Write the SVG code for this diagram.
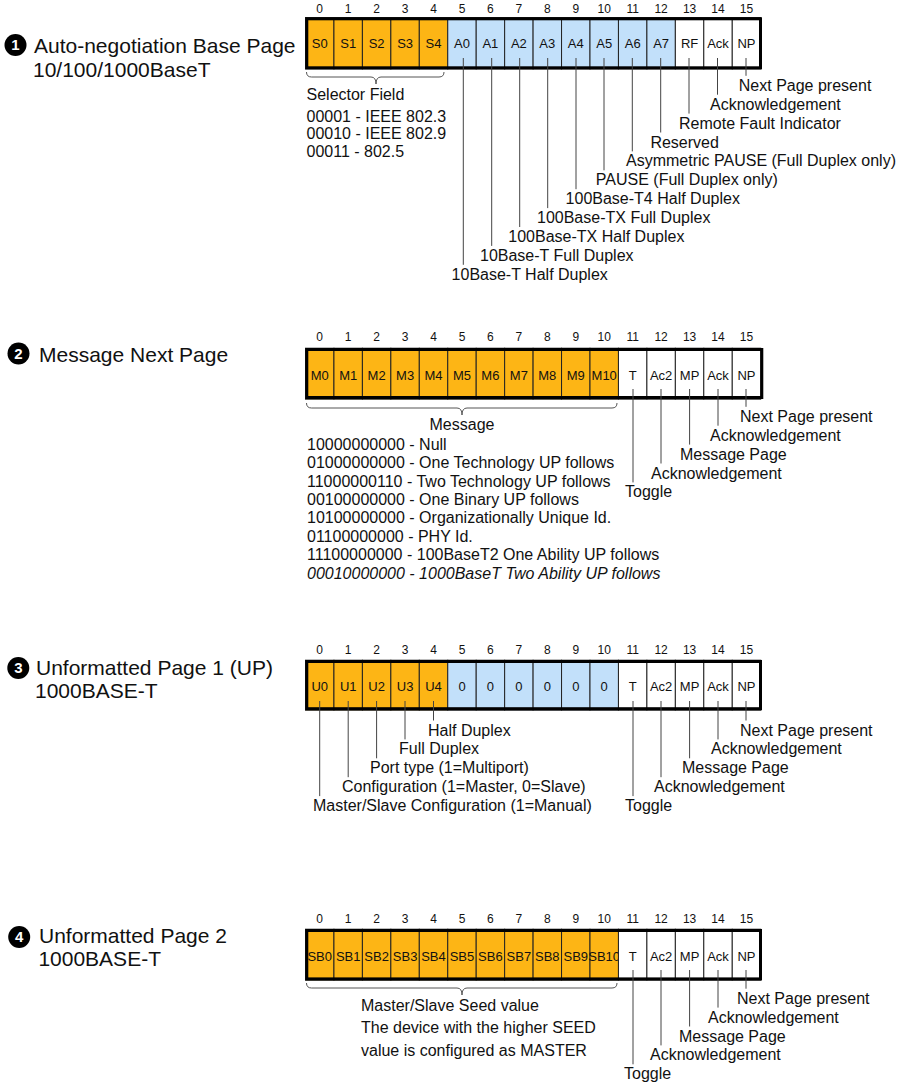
<svg xmlns="http://www.w3.org/2000/svg" width="902" height="1083" viewBox="0 0 902 1083">
<style>
  text { font-family: "Liberation Sans", Arial, sans-serif; fill: #111; }
  .o { fill: #FDB515; stroke: #222; stroke-width: 1; }
  .b { fill: #C2E0FA; stroke: #222; stroke-width: 1; }
  .w { fill: #FFFFFF; stroke: #222; stroke-width: 1; }
  .frame { fill: none; stroke: #000; stroke-width: 3; }
  .idx { font-size: 12px; text-anchor: middle; }
  .cl { font-size: 13px; text-anchor: middle; }
  .lbl { font-size: 16px; }
  .mid { text-anchor: middle; }
  .ttl { font-size: 21px; }
  .num { font-size: 15px; font-weight: bold; fill: #fff; text-anchor: middle; }
  .conn { stroke: #444; stroke-width: 1; fill: none; }
  .brace { stroke: #555; stroke-width: 1; fill: none; }
</style>

<!-- ===== Page 1: Auto-negotiation base page ===== -->
<g id="title-1">
  <circle cx="15.5" cy="45" r="11" fill="#000"/>
  <text class="num" x="15.5" y="50.3">1</text>
  <text class="ttl" x="34" y="53.3">Auto-negotiation Base Page</text>
  <text class="ttl" x="33" y="76.7">10/100/1000BaseT</text>
</g>
<g id="index-1">
  <text class="idx" x="319.7" y="12.6">0</text><text class="idx" x="348.2" y="12.6">1</text><text class="idx" x="376.6" y="12.6">2</text><text class="idx" x="405.1" y="12.6">3</text>
  <text class="idx" x="433.5" y="12.6">4</text><text class="idx" x="462" y="12.6">5</text><text class="idx" x="490.4" y="12.6">6</text><text class="idx" x="518.9" y="12.6">7</text>
  <text class="idx" x="547.3" y="12.6">8</text><text class="idx" x="575.8" y="12.6">9</text><text class="idx" x="604.2" y="12.6">10</text><text class="idx" x="632.7" y="12.6">11</text>
  <text class="idx" x="661.1" y="12.6">12</text><text class="idx" x="689.6" y="12.6">13</text><text class="idx" x="718" y="12.6">14</text><text class="idx" x="746.5" y="12.6">15</text>
</g>
<g id="reg-1">
  <g id="p1-s0"><rect class="o" x="305.5" y="17.5" width="28.45" height="51.5"/><text class="cl" x="319.7" y="48">S0</text></g>
  <g id="p1-s1"><rect class="o" x="333.95" y="17.5" width="28.45" height="51.5"/><text class="cl" x="348.2" y="48">S1</text></g>
  <g id="p1-s2"><rect class="o" x="362.4" y="17.5" width="28.45" height="51.5"/><text class="cl" x="376.6" y="48">S2</text></g>
  <g id="p1-s3"><rect class="o" x="390.85" y="17.5" width="28.45" height="51.5"/><text class="cl" x="405.1" y="48">S3</text></g>
  <g id="p1-s4"><rect class="o" x="419.3" y="17.5" width="28.45" height="51.5"/><text class="cl" x="433.5" y="48">S4</text></g>
  <g id="p1-a0"><rect class="b" x="447.75" y="17.5" width="28.45" height="51.5"/><text class="cl" x="462" y="48">A0</text></g>
  <g id="p1-a1"><rect class="b" x="476.2" y="17.5" width="28.45" height="51.5"/><text class="cl" x="490.4" y="48">A1</text></g>
  <g id="p1-a2"><rect class="b" x="504.65" y="17.5" width="28.45" height="51.5"/><text class="cl" x="518.9" y="48">A2</text></g>
  <g id="p1-a3"><rect class="b" x="533.1" y="17.5" width="28.45" height="51.5"/><text class="cl" x="547.3" y="48">A3</text></g>
  <g id="p1-a4"><rect class="b" x="561.55" y="17.5" width="28.45" height="51.5"/><text class="cl" x="575.8" y="48">A4</text></g>
  <g id="p1-a5"><rect class="b" x="590" y="17.5" width="28.45" height="51.5"/><text class="cl" x="604.2" y="48">A5</text></g>
  <g id="p1-a6"><rect class="b" x="618.45" y="17.5" width="28.45" height="51.5"/><text class="cl" x="632.7" y="48">A6</text></g>
  <g id="p1-a7"><rect class="b" x="646.9" y="17.5" width="28.45" height="51.5"/><text class="cl" x="661.1" y="48">A7</text></g>
  <g id="p1-rf"><rect class="w" x="675.35" y="17.5" width="28.45" height="51.5"/><text class="cl" x="689.6" y="48">RF</text></g>
  <g id="p1-ack"><rect class="w" x="703.8" y="17.5" width="28.45" height="51.5"/><text class="cl" x="718" y="48">Ack</text></g>
  <g id="p1-np"><rect class="w" x="732.25" y="17.5" width="28.45" height="51.5"/><text class="cl" x="746.5" y="48">NP</text></g>
  <rect class="frame" x="306.8" y="18.8" width="453.7" height="49"/>
</g>
<g id="selector-field">
  <path class="brace" d="M306.5,72 Q306.5,77 311.5,77 H371 Q376,77 376,84 Q376,77 381,77 H439 Q444,77 444,72"/>
  <text class="lbl" x="306.5" y="99.5">Selector Field</text>
  <text class="lbl" x="306.5" y="121.5">00001 - IEEE 802.3</text>
  <text class="lbl" x="306.5" y="139">00010 - IEEE 802.9</text>
  <text class="lbl" x="306.5" y="156.5">00011 - 802.5</text>
</g>
<g id="labels-1">
  <text class="lbl" x="738.8" y="90.8">Next Page present</text>
  <text class="lbl" x="710" y="109.7">Acknowledgement</text>
  <text class="lbl" x="679" y="128.6">Remote Fault Indicator</text>
  <text class="lbl" x="650.4" y="147.5">Reserved</text>
  <text class="lbl" x="626" y="166.4">Asymmetric PAUSE (Full Duplex only)</text>
  <text class="lbl" x="595.8" y="185.3">PAUSE (Full Duplex only)</text>
  <text class="lbl" x="565.6" y="204.2">100Base-T4 Half Duplex</text>
  <text class="lbl" x="537" y="223.1">100Base-TX Full Duplex</text>
  <text class="lbl" x="508.3" y="242">100Base-TX Half Duplex</text>
  <text class="lbl" x="480" y="260.9">10Base-T Full Duplex</text>
  <text class="lbl" x="451.6" y="279.8">10Base-T Half Duplex</text>
</g>

<!-- ===== Page 2: Message next page ===== -->
<g id="title-2">
  <circle cx="18.5" cy="353.5" r="11" fill="#000"/>
  <text class="num" x="18.5" y="358.8">2</text>
  <text class="ttl" x="39" y="361.7">Message Next Page</text>
</g>
<g id="index-2">
  <text class="idx" x="319.7" y="340.5">0</text><text class="idx" x="348.2" y="340.5">1</text><text class="idx" x="376.6" y="340.5">2</text><text class="idx" x="405.1" y="340.5">3</text>
  <text class="idx" x="433.5" y="340.5">4</text><text class="idx" x="462" y="340.5">5</text><text class="idx" x="490.4" y="340.5">6</text><text class="idx" x="518.9" y="340.5">7</text>
  <text class="idx" x="547.3" y="340.5">8</text><text class="idx" x="575.8" y="340.5">9</text><text class="idx" x="604.2" y="340.5">10</text><text class="idx" x="632.7" y="340.5">11</text>
  <text class="idx" x="661.1" y="340.5">12</text><text class="idx" x="689.6" y="340.5">13</text><text class="idx" x="718" y="340.5">14</text><text class="idx" x="746.5" y="340.5">15</text>
</g>
<g id="reg-2">
  <g id="p2-m0"><rect class="o" x="305.5" y="348.2" width="28.45" height="51"/><text class="cl" x="319.7" y="379.5">M0</text></g>
  <g id="p2-m1"><rect class="o" x="333.95" y="348.2" width="28.45" height="51"/><text class="cl" x="348.2" y="379.5">M1</text></g>
  <g id="p2-m2"><rect class="o" x="362.4" y="348.2" width="28.45" height="51"/><text class="cl" x="376.6" y="379.5">M2</text></g>
  <g id="p2-m3"><rect class="o" x="390.85" y="348.2" width="28.45" height="51"/><text class="cl" x="405.1" y="379.5">M3</text></g>
  <g id="p2-m4"><rect class="o" x="419.3" y="348.2" width="28.45" height="51"/><text class="cl" x="433.5" y="379.5">M4</text></g>
  <g id="p2-m5"><rect class="o" x="447.75" y="348.2" width="28.45" height="51"/><text class="cl" x="462" y="379.5">M5</text></g>
  <g id="p2-m6"><rect class="o" x="476.2" y="348.2" width="28.45" height="51"/><text class="cl" x="490.4" y="379.5">M6</text></g>
  <g id="p2-m7"><rect class="o" x="504.65" y="348.2" width="28.45" height="51"/><text class="cl" x="518.9" y="379.5">M7</text></g>
  <g id="p2-m8"><rect class="o" x="533.1" y="348.2" width="28.45" height="51"/><text class="cl" x="547.3" y="379.5">M8</text></g>
  <g id="p2-m9"><rect class="o" x="561.55" y="348.2" width="28.45" height="51"/><text class="cl" x="575.8" y="379.5">M9</text></g>
  <g id="p2-m10"><rect class="o" x="590" y="348.2" width="28.45" height="51"/><text class="cl" x="604.2" y="379.5">M10</text></g>
  <g id="p2-t"><rect class="w" x="618.45" y="348.2" width="28.45" height="51"/><text class="cl" x="632.7" y="379.5">T</text></g>
  <g id="p2-ac2"><rect class="w" x="646.9" y="348.2" width="28.45" height="51"/><text class="cl" x="661.1" y="379.5">Ac2</text></g>
  <g id="p2-mp"><rect class="w" x="675.35" y="348.2" width="28.45" height="51"/><text class="cl" x="689.6" y="379.5">MP</text></g>
  <g id="p2-ack"><rect class="w" x="703.8" y="348.2" width="28.45" height="51"/><text class="cl" x="718" y="379.5">Ack</text></g>
  <g id="p2-np"><rect class="w" x="732.25" y="348.2" width="28.45" height="51"/><text class="cl" x="746.5" y="379.5">NP</text></g>
  <rect class="frame" x="306.8" y="349.5" width="455" height="48"/>
</g>
<g id="message-field">
  <path class="brace" d="M306.5,403 Q306.5,408 311.5,408 H457 Q462,408 462,415 Q462,408 467,408 H612 Q617,408 617,403"/>
  <text class="lbl mid" x="462" y="430">Message</text>
  <text class="lbl" x="307" y="449.7">10000000000 - Null</text>
  <text class="lbl" x="307" y="468.1">01000000000 - One Technology UP follows</text>
  <text class="lbl" x="307" y="486.5">11000000110 - Two Technology UP follows</text>
  <text class="lbl" x="307" y="504.9">00100000000 - One Binary UP follows</text>
  <text class="lbl" x="307" y="523.3">10100000000 - Organizationally Unique Id.</text>
  <text class="lbl" x="307" y="541.7">01100000000 - PHY Id.</text>
  <text class="lbl" x="307" y="560.1">11100000000 - 100BaseT2 One Ability UP follows</text>
  <text class="lbl" x="307" y="578.5" font-style="italic">00010000000 - 1000BaseT Two Ability UP follows</text>
</g>
<g id="labels-2">
  <text class="lbl" x="740" y="421.8">Next Page present</text>
  <text class="lbl" x="710" y="440.7">Acknowledgement</text>
  <text class="lbl" x="680" y="459.6">Message Page</text>
  <text class="lbl" x="651" y="478.5">Acknowledgement</text>
  <text class="lbl" x="625" y="497.4">Toggle</text>
</g>

<!-- ===== Page 3: Unformatted page 1 ===== -->
<g id="title-3">
  <circle cx="18.3" cy="668" r="11" fill="#000"/>
  <text class="num" x="18.3" y="673.3">3</text>
  <text class="ttl" x="36" y="675">Unformatted Page 1 (UP)</text>
  <text class="ttl" x="35" y="697.5">1000BASE-T</text>
</g>
<g id="index-3">
  <text class="idx" x="319.7" y="654.3">0</text><text class="idx" x="348.2" y="654.3">1</text><text class="idx" x="376.6" y="654.3">2</text><text class="idx" x="405.1" y="654.3">3</text>
  <text class="idx" x="433.5" y="654.3">4</text><text class="idx" x="462" y="654.3">5</text><text class="idx" x="490.4" y="654.3">6</text><text class="idx" x="518.9" y="654.3">7</text>
  <text class="idx" x="547.3" y="654.3">8</text><text class="idx" x="575.8" y="654.3">9</text><text class="idx" x="604.2" y="654.3">10</text><text class="idx" x="632.7" y="654.3">11</text>
  <text class="idx" x="661.1" y="654.3">12</text><text class="idx" x="689.6" y="654.3">13</text><text class="idx" x="718" y="654.3">14</text><text class="idx" x="746.5" y="654.3">15</text>
</g>
<g id="reg-3">
  <g id="p3-u0"><rect class="o" x="305.5" y="660.2" width="28.45" height="50"/><text class="cl" x="319.7" y="690.7">U0</text></g>
  <g id="p3-u1"><rect class="o" x="333.95" y="660.2" width="28.45" height="50"/><text class="cl" x="348.2" y="690.7">U1</text></g>
  <g id="p3-u2"><rect class="o" x="362.4" y="660.2" width="28.45" height="50"/><text class="cl" x="376.6" y="690.7">U2</text></g>
  <g id="p3-u3"><rect class="o" x="390.85" y="660.2" width="28.45" height="50"/><text class="cl" x="405.1" y="690.7">U3</text></g>
  <g id="p3-u4"><rect class="o" x="419.3" y="660.2" width="28.45" height="50"/><text class="cl" x="433.5" y="690.7">U4</text></g>
  <g id="p3-z5"><rect class="b" x="447.75" y="660.2" width="28.45" height="50"/><text class="cl" x="462" y="690.7">0</text></g>
  <g id="p3-z6"><rect class="b" x="476.2" y="660.2" width="28.45" height="50"/><text class="cl" x="490.4" y="690.7">0</text></g>
  <g id="p3-z7"><rect class="b" x="504.65" y="660.2" width="28.45" height="50"/><text class="cl" x="518.9" y="690.7">0</text></g>
  <g id="p3-z8"><rect class="b" x="533.1" y="660.2" width="28.45" height="50"/><text class="cl" x="547.3" y="690.7">0</text></g>
  <g id="p3-z9"><rect class="b" x="561.55" y="660.2" width="28.45" height="50"/><text class="cl" x="575.8" y="690.7">0</text></g>
  <g id="p3-z10"><rect class="b" x="590" y="660.2" width="28.45" height="50"/><text class="cl" x="604.2" y="690.7">0</text></g>
  <g id="p3-t"><rect class="w" x="618.45" y="660.2" width="28.45" height="50"/><text class="cl" x="632.7" y="690.7">T</text></g>
  <g id="p3-ac2"><rect class="w" x="646.9" y="660.2" width="28.45" height="50"/><text class="cl" x="661.1" y="690.7">Ac2</text></g>
  <g id="p3-mp"><rect class="w" x="675.35" y="660.2" width="28.45" height="50"/><text class="cl" x="689.6" y="690.7">MP</text></g>
  <g id="p3-ack"><rect class="w" x="703.8" y="660.2" width="28.45" height="50"/><text class="cl" x="718" y="690.7">Ack</text></g>
  <g id="p3-np"><rect class="w" x="732.25" y="660.2" width="28.45" height="50"/><text class="cl" x="746.5" y="690.7">NP</text></g>
  <rect class="frame" x="306.8" y="661.5" width="453.7" height="47.2"/>
</g>
<g id="labels-3">
  <text class="lbl" x="428" y="735.5">Half Duplex</text>
  <text class="lbl" x="399" y="754.4">Full Duplex</text>
  <text class="lbl" x="370" y="773.3">Port type (1=Multiport)</text>
  <text class="lbl" x="342" y="792.2">Configuration (1=Master, 0=Slave)</text>
  <text class="lbl" x="313" y="811.1">Master/Slave Configuration (1=Manual)</text>
  <text class="lbl" x="740" y="735.5">Next Page present</text>
  <text class="lbl" x="711" y="754.4">Acknowledgement</text>
  <text class="lbl" x="682" y="773.3">Message Page</text>
  <text class="lbl" x="654" y="792.2">Acknowledgement</text>
  <text class="lbl" x="625" y="811.1">Toggle</text>
</g>

<!-- ===== Page 4: Unformatted page 2 ===== -->
<g id="title-4">
  <circle cx="19.2" cy="937" r="11" fill="#000"/>
  <text class="num" x="19.2" y="942.3">4</text>
  <text class="ttl" x="39" y="943.3">Unformatted Page 2</text>
  <text class="ttl" x="38.4" y="965.5">1000BASE-T</text>
</g>
<g id="index-4">
  <text class="idx" x="319.7" y="923.3">0</text><text class="idx" x="348.2" y="923.3">1</text><text class="idx" x="376.6" y="923.3">2</text><text class="idx" x="405.1" y="923.3">3</text>
  <text class="idx" x="433.5" y="923.3">4</text><text class="idx" x="462" y="923.3">5</text><text class="idx" x="490.4" y="923.3">6</text><text class="idx" x="518.9" y="923.3">7</text>
  <text class="idx" x="547.3" y="923.3">8</text><text class="idx" x="575.8" y="923.3">9</text><text class="idx" x="604.2" y="923.3">10</text><text class="idx" x="632.7" y="923.3">11</text>
  <text class="idx" x="661.1" y="923.3">12</text><text class="idx" x="689.6" y="923.3">13</text><text class="idx" x="718" y="923.3">14</text><text class="idx" x="746.5" y="923.3">15</text>
</g>
<g id="reg-4">
  <g id="p4-sb0"><rect class="o" x="305.5" y="929.2" width="28.45" height="51"/><text class="cl" x="319.7" y="960.7">SB0</text></g>
  <g id="p4-sb1"><rect class="o" x="333.95" y="929.2" width="28.45" height="51"/><text class="cl" x="348.2" y="960.7">SB1</text></g>
  <g id="p4-sb2"><rect class="o" x="362.4" y="929.2" width="28.45" height="51"/><text class="cl" x="376.6" y="960.7">SB2</text></g>
  <g id="p4-sb3"><rect class="o" x="390.85" y="929.2" width="28.45" height="51"/><text class="cl" x="405.1" y="960.7">SB3</text></g>
  <g id="p4-sb4"><rect class="o" x="419.3" y="929.2" width="28.45" height="51"/><text class="cl" x="433.5" y="960.7">SB4</text></g>
  <g id="p4-sb5"><rect class="o" x="447.75" y="929.2" width="28.45" height="51"/><text class="cl" x="462" y="960.7">SB5</text></g>
  <g id="p4-sb6"><rect class="o" x="476.2" y="929.2" width="28.45" height="51"/><text class="cl" x="490.4" y="960.7">SB6</text></g>
  <g id="p4-sb7"><rect class="o" x="504.65" y="929.2" width="28.45" height="51"/><text class="cl" x="518.9" y="960.7">SB7</text></g>
  <g id="p4-sb8"><rect class="o" x="533.1" y="929.2" width="28.45" height="51"/><text class="cl" x="547.3" y="960.7">SB8</text></g>
  <g id="p4-sb9"><rect class="o" x="561.55" y="929.2" width="28.45" height="51"/><text class="cl" x="575.8" y="960.7">SB9</text></g>
  <g id="p4-sb10"><rect class="o" x="590" y="929.2" width="28.45" height="51"/><text class="cl" x="604.2" y="960.7">SB10</text></g>
  <g id="p4-t"><rect class="w" x="618.45" y="929.2" width="28.45" height="51"/><text class="cl" x="632.7" y="960.7">T</text></g>
  <g id="p4-ac2"><rect class="w" x="646.9" y="929.2" width="28.45" height="51"/><text class="cl" x="661.1" y="960.7">Ac2</text></g>
  <g id="p4-mp"><rect class="w" x="675.35" y="929.2" width="28.45" height="51"/><text class="cl" x="689.6" y="960.7">MP</text></g>
  <g id="p4-ack"><rect class="w" x="703.8" y="929.2" width="28.45" height="51"/><text class="cl" x="718" y="960.7">Ack</text></g>
  <g id="p4-np"><rect class="w" x="732.25" y="929.2" width="28.45" height="51"/><text class="cl" x="746.5" y="960.7">NP</text></g>
  <rect class="frame" x="306.8" y="930.5" width="453.7" height="48.4"/>
</g>
<g id="seed-field">
  <path class="brace" d="M306.5,983 Q306.5,988 311.5,988 H457 Q462,988 462,995 Q462,988 467,988 H612 Q617,988 617,983"/>
  <text class="lbl" x="361" y="1010.7">Master/Slave Seed value</text>
  <text class="lbl" x="361" y="1032.7">The device with the higher SEED</text>
  <text class="lbl" x="361" y="1055.7">value is configured as MASTER</text>
</g>
<g id="labels-4">
  <text class="lbl" x="737" y="1003.7">Next Page present</text>
  <text class="lbl" x="708" y="1022.6">Acknowledgement</text>
  <text class="lbl" x="679" y="1041.5">Message Page</text>
  <text class="lbl" x="650" y="1060.4">Acknowledgement</text>
  <text class="lbl" x="624" y="1079.3">Toggle</text>
</g>

<!-- ===== Leader lines from bit cells to their descriptions ===== -->
<g id="connectors">
  <!-- page 1 -->
  <path class="conn" d="M746,58 V75.8 M717.5,58 V94.7 M689,58 V113.6 M660.7,58 V132.5 M632.3,58 V151.4 M604,58 V170.3 M576,58 V189.2 M547.7,58 V208.1 M519.7,58 V227 M491.7,58 V245.9 M463.3,58 V264.8"/>
  <!-- page 2 -->
  <path class="conn" d="M746,389 V406.8 M718,389 V425.7 M689.6,389 V444.6 M661,389 V463.5 M633,389 V482.4"/>
  <!-- page 3 -->
  <path class="conn" d="M433.5,701 V720.5 M405,701 V739.4 M376.6,701 V758.3 M348.2,701 V777.2 M319.7,701 V796.1"/>
  <path class="conn" d="M746,701 V720.5 M718,701 V739.4 M689.6,701 V758.3 M661,701 V777.2 M633,701 V796.1"/>
  <!-- page 4 -->
  <path class="conn" d="M746,970 V988.7 M718,970 V1007.6 M689.6,970 V1026.5 M661,970 V1045.4 M633,970 V1064.3"/>
</g>
</svg>
